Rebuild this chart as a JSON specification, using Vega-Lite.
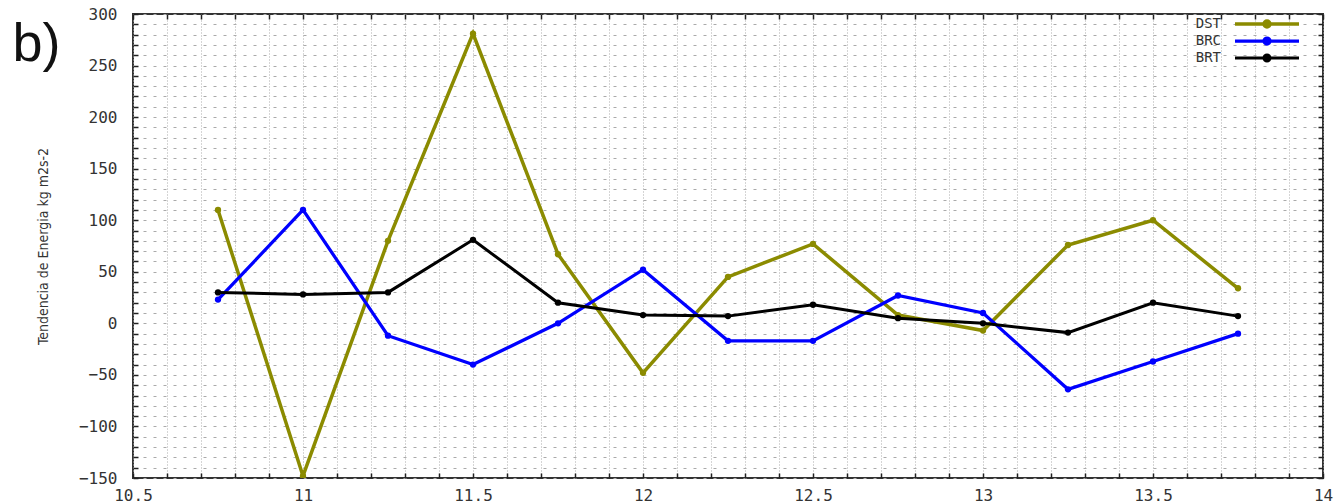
{
  "$schema": "https://vega.github.io/schema/vega-lite/v6.json",
  "width": 1190,
  "height": 464,
  "autosize": {"type": "none"},
  "padding": {"left": 133, "top": 14, "right": 19, "bottom": 25},
  "background": "white",
  "data": {"values": [
    {"t": 10.75, "serie": "DST", "v": 110},
    {"t": 11.0, "serie": "DST", "v": -148},
    {"t": 11.25, "serie": "DST", "v": 80},
    {"t": 11.5, "serie": "DST", "v": 281},
    {"t": 11.75, "serie": "DST", "v": 67},
    {"t": 12.0, "serie": "DST", "v": -48},
    {"t": 12.25, "serie": "DST", "v": 45},
    {"t": 12.5, "serie": "DST", "v": 77},
    {"t": 12.75, "serie": "DST", "v": 8},
    {"t": 13.0, "serie": "DST", "v": -7},
    {"t": 13.25, "serie": "DST", "v": 76},
    {"t": 13.5, "serie": "DST", "v": 100},
    {"t": 13.75, "serie": "DST", "v": 34},
    {"t": 10.75, "serie": "BRC", "v": 23},
    {"t": 11.0, "serie": "BRC", "v": 110},
    {"t": 11.25, "serie": "BRC", "v": -12},
    {"t": 11.5, "serie": "BRC", "v": -40},
    {"t": 11.75, "serie": "BRC", "v": 0},
    {"t": 12.0, "serie": "BRC", "v": 52},
    {"t": 12.25, "serie": "BRC", "v": -17},
    {"t": 12.5, "serie": "BRC", "v": -17},
    {"t": 12.75, "serie": "BRC", "v": 27},
    {"t": 13.0, "serie": "BRC", "v": 10},
    {"t": 13.25, "serie": "BRC", "v": -64},
    {"t": 13.5, "serie": "BRC", "v": -37},
    {"t": 13.75, "serie": "BRC", "v": -10},
    {"t": 10.75, "serie": "BRT", "v": 30},
    {"t": 11.0, "serie": "BRT", "v": 28},
    {"t": 11.25, "serie": "BRT", "v": 30},
    {"t": 11.5, "serie": "BRT", "v": 81},
    {"t": 11.75, "serie": "BRT", "v": 20},
    {"t": 12.0, "serie": "BRT", "v": 8},
    {"t": 12.25, "serie": "BRT", "v": 7},
    {"t": 12.5, "serie": "BRT", "v": 18},
    {"t": 12.75, "serie": "BRT", "v": 5},
    {"t": 13.0, "serie": "BRT", "v": 0},
    {"t": 13.25, "serie": "BRT", "v": -9},
    {"t": 13.5, "serie": "BRT", "v": 20},
    {"t": 13.75, "serie": "BRT", "v": 7}
  ]},
  "layer": [
    {
      "mark": {"type": "line", "clip": true},
      "encoding": {
        "x": {"field": "t", "type": "quantitative", "scale": {"domain": [10.5, 14], "nice": false, "zero": false},
          "axis": {"orient": "bottom", "values": [10.5, 10.6, 10.7, 10.8, 10.9, 11.0, 11.1, 11.2, 11.3, 11.4, 11.5, 11.6, 11.7, 11.8, 11.9, 12.0, 12.1, 12.2, 12.3, 12.4, 12.5, 12.6, 12.7, 12.8, 12.9, 13.0, 13.1, 13.2, 13.3, 13.4, 13.5, 13.6, 13.7, 13.8, 13.9, 14.0],
            "labelExpr": "abs(datum.value*2-round(datum.value*2))<0.001 ? format(datum.value,'~g') : ''",
            "labelOverlap": false, "labelFlush": false, "tickSize": -5, "tickColor": "#222", "tickWidth": 1.5,
            "domain": false, "grid": true, "gridColor": "#aaa", "gridDash": [1, 2], "gridWidth": 1,
            "labelFont": "DejaVu Sans Mono", "labelFontSize": 16, "labelColor": "#333", "labelPadding": 14, "title": null}},
        "y": {"field": "v", "type": "quantitative", "scale": {"domain": [-150, 300], "nice": false, "zero": false},
          "axis": {"orient": "left", "values": [-150, -140, -130, -120, -110, -100, -90, -80, -70, -60, -50, -40, -30, -20, -10, 0, 10, 20, 30, 40, 50, 60, 70, 80, 90, 100, 110, 120, 130, 140, 150, 160, 170, 180, 190, 200, 210, 220, 230, 240, 250, 260, 270, 280, 290, 300],
            "labelExpr": "datum.value % 50 == 0 ? format(datum.value,'d') : ''",
            "labelOverlap": false, "labelFlush": false, "tickSize": -5, "tickColor": "#222", "tickWidth": 1.5,
            "domain": false, "grid": true, "gridColor": "#aaa", "gridDash": [3, 7], "gridWidth": 1,
            "labelFont": "DejaVu Sans Mono", "labelFontSize": 16, "labelColor": "#333", "labelPadding": 21,
            "title": "Tendencia de Energia kg m2s-2", "titleFont": "DejaVu Sans Condensed", "titleFontSize": 14, "titleFontWeight": "normal", "titleColor": "#333",
            "titleX": -90, "titleY": 232, "titleAngle": 270, "titleAlign": "center", "titleBaseline": "middle"}},
        "color": {"field": "serie", "type": "nominal", "scale": {"domain": ["DST", "BRC", "BRT"], "range": ["#8b8b00", "#0000ff", "#000000"]},
          "legend": {"orient": "none", "legendX": 1127, "legendY": 3, "title": null,
            "symbolType": "M-6.4,0H6.4M-0.6,0A0.6,0.6,0,1,0,0.6,0A0.6,0.6,0,1,0,-0.6,0Z",
            "symbolSize": 100, "symbolStrokeWidth": 2.5, "labelAlign": "right", "labelOffset": -53,
            "labelFont": "DejaVu Sans Mono", "labelFontSize": 14, "labelColor": "#333", "rowPadding": -3, "padding": 0,
            "encode": {"symbols": {"update": {"fill": {"scale": "color", "field": "value"}, "stroke": {"scale": "color", "field": "value"}, "opacity": {"value": 1}}}}}},
        "strokeWidth": {"field": "serie", "type": "nominal", "scale": {"domain": ["DST", "BRC", "BRT"], "range": [3.5, 3, 2.5]}, "legend": null}
      }
    },
    {
      "mark": {"type": "point", "filled": true, "size": 40, "opacity": 1, "clip": true},
      "encoding": {
        "x": {"field": "t", "type": "quantitative", "scale": {"domain": [10.5, 14], "nice": false, "zero": false},
          "axis": {"orient": "top", "values": [10.5, 10.6, 10.7, 10.8, 10.9, 11.0, 11.1, 11.2, 11.3, 11.4, 11.5, 11.6, 11.7, 11.8, 11.9, 12.0, 12.1, 12.2, 12.3, 12.4, 12.5, 12.6, 12.7, 12.8, 12.9, 13.0, 13.1, 13.2, 13.3, 13.4, 13.5, 13.6, 13.7, 13.8, 13.9, 14.0],
            "labels": false, "tickSize": -5, "tickColor": "#222", "tickWidth": 1.5, "domain": false, "grid": false,
            "title": "b)", "titleX": -121, "titleY": 46, "titleAngle": 0, "titleAlign": "left", "titleBaseline": "alphabetic",
            "titleFont": "Liberation Sans", "titleFontSize": 54, "titleFontWeight": "normal", "titleColor": "#111"}},
        "y": {"field": "v", "type": "quantitative", "scale": {"domain": [-150, 300], "nice": false, "zero": false},
          "axis": {"orient": "right", "values": [-150, -140, -130, -120, -110, -100, -90, -80, -70, -60, -50, -40, -30, -20, -10, 0, 10, 20, 30, 40, 50, 60, 70, 80, 90, 100, 110, 120, 130, 140, 150, 160, 170, 180, 190, 200, 210, 220, 230, 240, 250, 260, 270, 280, 290, 300],
            "labels": false, "tickSize": -5, "tickColor": "#222", "tickWidth": 1.5, "domain": false, "grid": false, "title": null}},
        "color": {"field": "serie", "type": "nominal", "scale": {"domain": ["DST", "BRC", "BRT"], "range": ["#8b8b00", "#0000ff", "#000000"]}}
      }
    }
  ],
  "resolve": {"axis": {"x": "independent", "y": "independent"}},
  "config": {"view": {"stroke": "#333", "strokeWidth": 2}}
}
